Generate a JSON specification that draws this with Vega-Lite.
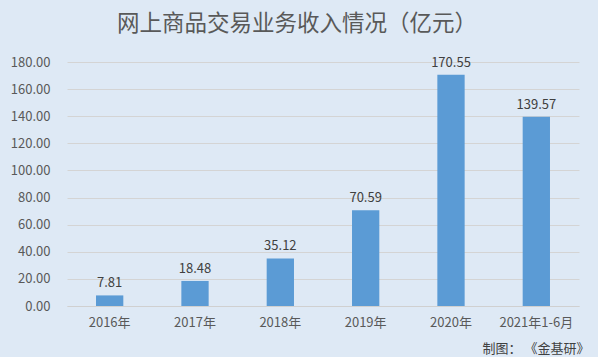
{
  "$schema": "https://vega.github.io/schema/vega-lite/v6.json",
  "autosize": "none",
  "width": 512,
  "height": 244,
  "padding": {"left": 67, "top": 62, "right": 19, "bottom": 51},
  "background": "#dee9f5",
  "title": {
    "text": "网上商品交易业务收入情况（亿元）",
    "font": "Noto Sans CJK SC",
    "fontSize": 22.5,
    "fontWeight": "normal",
    "color": "#595959",
    "anchor": "start",
    "frame": "group",
    "dx": 50,
    "offset": 21
  },
  "config": {
    "view": {"stroke": null},
    "font": "Noto Sans CJK SC"
  },
  "data": {
    "values": [
      {"period": "2016年", "value": 7.81},
      {"period": "2017年", "value": 18.48},
      {"period": "2018年", "value": 35.12},
      {"period": "2019年", "value": 70.59},
      {"period": "2020年", "value": 170.55},
      {"period": "2021年1-6月", "value": 139.57}
    ]
  },
  "encoding": {
    "x": {
      "field": "period",
      "type": "nominal",
      "sort": null,
      "scale": {"paddingInner": 0.68},
      "axis": {
        "labelAngle": 0,
        "labelFontSize": 13,
        "labelColor": "#595959",
        "labelPadding": 10,
        "ticks": false,
        "domainColor": "#d0d0d0",
        "title": "制图： 《金基研》",
        "titleFontSize": 13,
        "titleFontWeight": "normal",
        "titleColor": "#404040",
        "titleAlign": "right",
        "titleBaseline": "alphabetic",
        "titleX": 522,
        "titleY": 46
      }
    },
    "y": {
      "field": "value",
      "type": "quantitative",
      "scale": {"domain": [0, 180]},
      "axis": {
        "values": [0, 20, 40, 60, 80, 100, 120, 140, 160, 180],
        "format": ".2f",
        "title": null,
        "domain": false,
        "ticks": false,
        "labelFontSize": 13,
        "labelColor": "#595959",
        "labelPadding": 17,
        "gridColor": "#d4d4d4",
        "gridWidth": 1
      }
    }
  },
  "layer": [
    {"mark": {"type": "bar", "color": "#5b9bd5"}},
    {
      "mark": {"type": "text", "dy": -12, "fontSize": 13, "color": "#404040"},
      "encoding": {"text": {"field": "value", "type": "quantitative", "format": ".2f"}}
    }
  ]
}
